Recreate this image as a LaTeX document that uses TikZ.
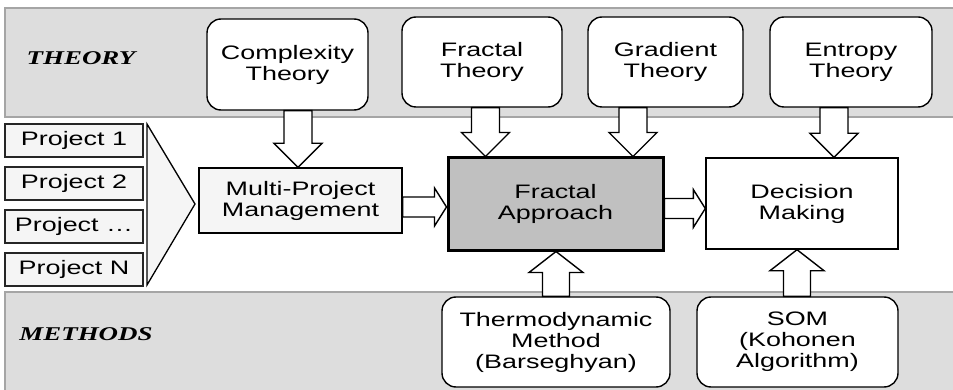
\documentclass[tikz,border=0pt]{standalone}
\usepackage{fontspec}
\setmainfont{Liberation Sans}[FakeStretch=1.38]
\newfontfamily\bandfont{Liberation Serif}[FakeStretch=1.38]
\usetikzlibrary{calc}

\definecolor{bandgray}{RGB}{221,221,221}
\definecolor{bandedge}{RGB}{165,165,165}
\definecolor{paleface}{RGB}{245,245,245}
\definecolor{coregray}{RGB}{192,192,192}

% block arrows between two named nodes, placed on a named guide coordinate
\newcommand\fatdown[3]{%
  \draw[blockarrow] let \p1=(#2.south -| #1), \p2=(#3.north -| #1) in
    (\x1-14pt,\y1) -- (\x1-14pt,\y2+24pt) -- (\x1-24pt,\y2+24pt) -- (\x1,\y2)
    -- (\x1+24pt,\y2+24pt) -- (\x1+14pt,\y2+24pt) -- (\x1+14pt,\y1) -- cycle;}
\newcommand\fatup[3]{%
  \draw[blockarrow] let \p1=(#2.north -| #1), \p2=(#3.south -| #1) in
    (\x1-13.5pt,\y1) -- (\x1-13.5pt,\y2-21pt) -- (\x1-27pt,\y2-21pt) -- (\x1,\y2)
    -- (\x1+27pt,\y2-21pt) -- (\x1+13.5pt,\y2-21pt) -- (\x1+13.5pt,\y1) -- cycle;}
\newcommand\fatright[3]{%
  \draw[blockarrow] let \p1=(#2.east |- #1), \p2=(#3.west |- #1) in
    (\x1,\y1+10pt) -- (\x2-12pt,\y1+10pt) -- (\x2-12pt,\y1+19pt) -- (\x2,\y1)
    -- (\x2-12pt,\y1-19pt) -- (\x2-12pt,\y1-10pt) -- (\x1,\y1-10pt) -- cycle;}

\begin{document}
\begin{tikzpicture}[x=1pt,y=-1pt,
  every node/.style={font=\fontsize{19.5}{21}\selectfont, align=center, inner sep=0pt},
  band/.style={fill=bandgray, draw=bandedge, line width=1.3pt},
  bandlabel/.style={font=\bandfont\bfseries\itshape\fontsize{19.5}{21}\selectfont},
  roundbox/.style={draw=black, fill=white, line width=1.4pt, rounded corners=14pt},
  projbox/.style={draw=black!85, fill=paleface, line width=1.3pt,
    minimum width=138pt, minimum height=33pt},
  plainbox/.style={draw=black, line width=1.4pt},
  blockarrow/.style={draw=black, fill=white, line width=1.4pt, line join=miter}
]
\useasboundingbox (0,0) rectangle (953,390);
\clip (0,0) rectangle (953,390);

% background bands
\draw[band] (5,8) rectangle (965,117);
\draw[band] (5,292) rectangle (965,405);
\node[bandlabel] (theory) at (81,58) {THEORY};
\node[bandlabel] (methods) at (86,334) {METHODS};

% projects and the funnel that gathers them
\node[projbox] (p1) at (74,140.5) {Project 1};
\node[projbox] (p2) at (74,183.5) {Project 2};
\node[projbox] (p3) at (74,226.5) {Project \dots};
\node[projbox] (p4) at (74,269.5) {Project N};
\draw[fill=paleface, draw=black, line width=1.3pt] (147,124) -- (195,204) -- (147,285) -- cycle;

% theory boxes
\node[roundbox, minimum width=161pt, minimum height=91pt] (ct) at (287.5,64.5) {Complexity\\Theory};
\node[roundbox, minimum width=160pt, minimum height=90pt] (ft) at (482,62) {Fractal\\Theory};
\node[roundbox, minimum width=155pt, minimum height=90pt] (gt) at (665.5,62) {Gradient\\Theory};
\node[roundbox, minimum width=162pt, minimum height=90pt] (et) at (851,62) {Entropy\\Theory};

% main row
\node[plainbox, fill=paleface, minimum width=203pt, minimum height=65pt] (mp) at (300.5,200.5) {Multi-Project\\Management};
\node[draw=black, fill=coregray, line width=3pt, minimum width=215pt, minimum height=92pt] (fa) at (555.5,204) {Fractal\\Approach};
\node[plainbox, fill=white, minimum width=192pt, minimum height=91pt] (dm) at (802,203.5) {Decision\\Making};

% method boxes
\node[roundbox, minimum width=228pt, minimum height=90pt] (tm) at (556,342) {Thermodynamic\\Method\\(Barseghyan)};
\node[roundbox, minimum width=201pt, minimum height=90pt] (som) at (797.5,342) {SOM\\(Kohonen\\Algorithm)};

% guide lines for the block arrows
\coordinate (xct) at (298,0);
\coordinate (xft) at (485.5,0);
\coordinate (xgt) at (633,0);
\coordinate (xet) at (834,0);
\coordinate (xtm) at (556,0);
\coordinate (xsom) at (797,0);
\coordinate (ymp) at (0,207);
\coordinate (yfa) at (0,208.5);

\fatdown{xct}{ct}{mp}
\fatdown{xft}{ft}{fa}
\fatdown{xgt}{gt}{fa}
\fatdown{xet}{et}{dm}
\fatup{xtm}{tm}{fa}
\fatup{xsom}{som}{dm}
\fatright{ymp}{mp}{fa}
\fatright{yfa}{fa}{dm}
\end{tikzpicture}
\end{document}
